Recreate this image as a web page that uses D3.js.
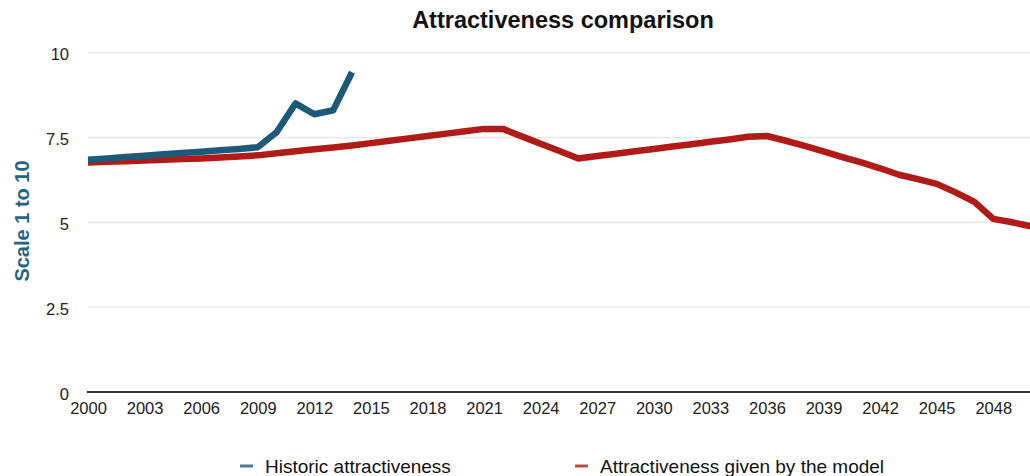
<!DOCTYPE html>
<html>
<head>
<meta charset="utf-8">
<script src="https://cdn.jsdelivr.net/npm/d3@7"></script>
<style>
  body { margin: 0; background: #fff; }
  svg { display: block; font-family: "Liberation Sans", Arial, sans-serif; }
</style>
</head>
<body>
<svg id="chart" width="1030" height="476"></svg>
<script>
// years on the x axis
const years = d3.range(2000, 2051);

// historic values, 2000-2014
const historic = [6.84, 6.88, 6.92, 6.96, 7.0, 7.04, 7.08, 7.12, 7.16, 7.21,
  7.65, 8.5, 8.18, 8.3, 9.42];

// model values, 2000-2050
const model = [6.76, 6.78, 6.8, 6.82, 6.84, 6.86, 6.88, 6.91, 6.94, 6.97,
  7.03, 7.09, 7.15, 7.2, 7.26, 7.33, 7.4, 7.47, 7.54, 7.61,
  7.68, 7.75, 7.75, 7.53, 7.31, 7.1, 6.88, 6.95, 7.02, 7.09,
  7.16, 7.23, 7.3, 7.37, 7.44, 7.52, 7.54, 7.4, 7.25, 7.09,
  6.92, 6.76, 6.59, 6.4, 6.27, 6.13, 5.88, 5.6, 5.1, 5.0, 4.88];

const xTickLabels = ["2000", "2003", "2006", "2009", "2012", "2015", "2018", "2021", "2024",
  "2027", "2030", "2033", "2036", "2039", "2042", "2045", "2048"];
const yTickLabels = ["0", "2.5", "5", "7.5", "10"];

const seriesNames = ["Historic attractiveness", "Attractiveness given by the model"];

const blue = "#1d5a78";
const red = "#b01b18";

const svg = d3.select("#chart");

const x = d3.scaleLinear()
  .domain([2000, 2050])
  .range([88, 1031]);

const y = d3.scaleLinear()
  .domain([0, 10])
  .range([392, 52.5]);

// gridlines
svg.append("g")
  .selectAll("line")
  .data(yTickLabels.slice(1).map(Number))
  .enter()
  .append("line")
  .attr("x1", x(2000))
  .attr("x2", 1030)
  .attr("y1", d => y(d))
  .attr("y2", d => y(d))
  .attr("stroke", "#e8e8e8")
  .attr("stroke-width", 1.5);

// y axis labels
const yAxis = svg.append("g")
  .attr("transform", "translate(" + (x(2000) - 19) + ",2)")
  .call(d3.axisLeft(y)
    .tickValues(yTickLabels.map(Number))
    .tickFormat((d, i) => yTickLabels[i])
    .tickSize(0)
    .tickPadding(0));
yAxis.select(".domain").remove();
yAxis.selectAll("text")
  .style("font-size", "16.5px")
  .attr("fill", "#222");

// x axis
const xAxis = svg.append("g")
  .attr("transform", "translate(0," + y(0) + ")")
  .call(d3.axisBottom(x)
    .tickValues(xTickLabels.map(Number))
    .tickFormat((d, i) => xTickLabels[i])
    .tickSize(0)
    .tickPadding(10));
xAxis.select(".domain")
  .attr("stroke", "#333")
  .attr("stroke-width", 2)
  .attr("d", "M" + (x(2000) - 1) + ",0H1030");
xAxis.selectAll("text")
  .style("font-size", "16.5px")
  .attr("fill", "#222");

const line = d3.line()
  .x((d, i) => x(years[i]))
  .y(d => y(d));

svg.append("path")
  .datum(model)
  .attr("d", line)
  .attr("fill", "none")
  .attr("stroke", red)
  .attr("stroke-width", 6.5)
  .attr("stroke-linejoin", "round");

svg.append("path")
  .datum(historic)
  .attr("d", line)
  .attr("fill", "none")
  .attr("stroke", blue)
  .attr("stroke-width", 6.5)
  .attr("stroke-linejoin", "round");

// title
svg.append("text")
  .attr("x", 563)
  .attr("y", 28)
  .attr("text-anchor", "middle")
  .style("font-size", "23.5px")
  .style("font-weight", "bold")
  .attr("fill", "#111")
  .text("Attractiveness comparison");

// y axis title
svg.append("text")
  .attr("transform", "translate(29,221) rotate(-90)")
  .attr("text-anchor", "middle")
  .style("font-size", "20px")
  .style("font-weight", "bold")
  .attr("fill", "#256584")
  .text("Scale 1 to 10");

// legend
const legend = svg.append("g")
  .selectAll("g")
  .data(seriesNames)
  .enter()
  .append("g")
  .attr("transform", (d, i) => "translate(" + [240, 575][i] + ",0)");

legend.append("rect")
  .attr("x", 0)
  .attr("y", 464.5)
  .attr("width", 13)
  .attr("height", 3)
  .attr("fill", (d, i) => [blue, red][i])
  .attr("opacity", 0.8);

legend.append("text")
  .attr("x", 25)
  .attr("y", 473)
  .style("font-size", "19px")
  .attr("fill", "#111")
  .text(d => d);
</script>
</body>
</html>
